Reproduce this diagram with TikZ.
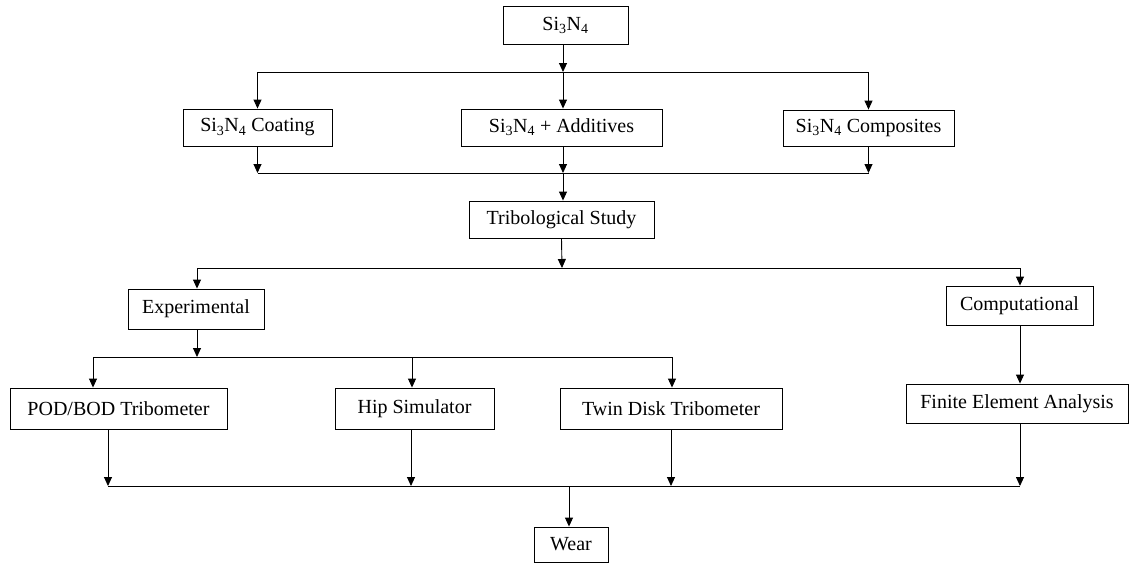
\documentclass[tikz,border=0pt]{standalone}
\usepackage{fontspec}
\setmainfont{Liberation Serif}
\usetikzlibrary{arrows.meta}
\begin{document}
\begin{tikzpicture}[x=1pt,y=-1pt,
  box/.style={draw, line width=0.9pt, inner sep=0pt, font=\fontsize{20}{24}\selectfont},
  arr/.style={line width=0.9pt, -{Triangle[width=8pt,length=9pt]}},
  ln/.style={line width=0.9pt}]
\useasboundingbox (0,0) rectangle (1130,563);
\fill[white] (0,0) rectangle (1130,563);
% boxes
\node[box, minimum width=125pt, minimum height=38pt] (top) at (565.5,25) {Si\textsubscript{3}N\textsubscript{4}};
\node[box, minimum width=149pt, minimum height=37pt] (coat) at (257.5,127.5) {Si\textsubscript{3}N\textsubscript{4} Coating};
\node[box, minimum width=201pt, minimum height=37pt] (add) at (561.5,127.5) {Si\textsubscript{3}N\textsubscript{4} + Additives};
\node[box, minimum width=171pt, minimum height=36pt] (comp) at (868.5,128) {Si\textsubscript{3}N\textsubscript{4} Composites};
\node[box, minimum width=185pt, minimum height=37pt] (trib) at (561.5,219.5) {Tribological Study};
\node[box, minimum width=136pt, minimum height=40pt] (exp) at (196,309) {Experimental};
\node[box, minimum width=147pt, minimum height=39pt] (cmp) at (1019.5,305.5) {Computational};
\node[box, minimum width=217pt, minimum height=41pt] (pod) at (118.5,408.5) {POD/BOD Tribometer};
\node[box, minimum width=159pt, minimum height=41pt] (hip) at (414.5,408.5) {Hip Simulator};
\node[box, minimum width=222pt, minimum height=41pt] (twin) at (671,408.5) {Twin Disk Tribometer};
\node[box, minimum width=222pt, minimum height=39pt] (fea) at (1017,403.5) {Finite Element Analysis};
\node[box, minimum width=74pt, minimum height=35pt] (wear) at (571,544.5) {Wear};
% junction coordinates
\coordinate (j1) at (563,72);
\coordinate (j2) at (563,173);
\coordinate (j3) at (562,268);
\coordinate (j4) at (197,357);
\coordinate (p1) at (93,357);
\coordinate (p2) at (412,357);
\coordinate (p3) at (672,357);
\coordinate (q1) at (108,486);
\coordinate (q2) at (411,486);
\coordinate (q3) at (671,486);
\coordinate (q4) at (1020,486);
\coordinate (w1) at (569,486);
% level 1
\draw[arr] (top.south -| j1) -- (j1);
\draw[ln] (j1 -| coat) -- (j1 -| comp);
\draw[arr] (j1 -| coat) -- (coat.north);
\draw[arr] (j1) -- (j1 |- add.north);
\draw[arr] (j1 -| comp) -- (comp.north);
% level 2
\draw[ln] (j2 -| coat) -- (j2 -| comp);
\draw[arr] (coat.south) -- (coat.south |- j2);
\draw[arr] (j2 |- add.south) -- (j2);
\draw[arr] (comp.south) -- (comp.south |- j2);
\draw[arr] (j2) -- (j2 |- trib.north);
% level 3
\draw[arr] (trib.south) -- (j3);
\draw[ln] (j3 -| j4) -- (j3 -| q4);
\draw[arr] (j3 -| j4) -- (j4 |- exp.north);
\draw[arr] (j3 -| q4) -- (q4 |- cmp.north);
% level 4
\draw[arr] (j4 |- exp.south) -- (j4);
\draw[ln] (p1) -- (p3);
\draw[arr] (p1) -- (p1 |- pod.north);
\draw[arr] (p2) -- (p2 |- hip.north);
\draw[arr] (p3) -- (p3 |- twin.north);
\draw[arr] (q4 |- cmp.south) -- (q4 |- fea.north);
% level 5
\draw[ln] (q1) -- (q4);
\draw[arr] (q1 |- pod.south) -- (q1);
\draw[arr] (q2 |- hip.south) -- (q2);
\draw[arr] (q3 |- twin.south) -- (q3);
\draw[arr] (q4 |- fea.south) -- (q4);
\draw[arr] (w1) -- (w1 |- wear.north);
\end{tikzpicture}
\end{document}
